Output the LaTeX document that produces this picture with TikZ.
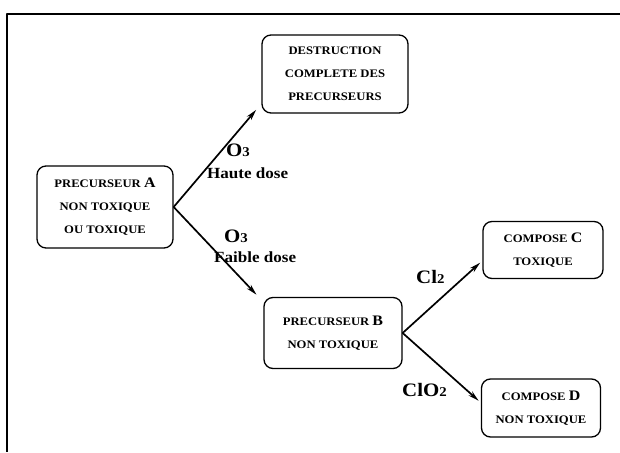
\documentclass[tikz,border=0pt]{standalone}
\usepackage{fontspec}
\setmainfont{Liberation Serif}
\newfontfamily\reffont[FakeStretch=1.1]{Liberation Serif}
\usetikzlibrary{arrows.meta}
\newcommand\boxfont{\reffont\bfseries\fontsize{11.5}{23}\selectfont}
\newcommand\bigletter[1]{{\fontsize{14.5}{23}\selectfont #1}}
\newcommand\chemfont{\reffont\bfseries\fontsize{19}{20}\selectfont}
\newcommand\dosefont{\reffont\bfseries\fontsize{15.5}{16}\selectfont}
\newcommand\subnum[1]{{\fontsize{13.5}{14}\selectfont #1}}
\tikzset{
  diagram style/.style={
    x=1pt, y=1pt,
    line join=round,
  },
  stage box/.style={
    draw,
    line width=1.3pt,
    rounded corners=9pt,
    align=center,
    inner sep=0pt,
    font=\boxfont,
  },
  reaction/.style={
    draw,
    line width=1.7pt,
    -{Stealth[length=11pt,width=5.5pt]},
    shorten >=#1,
  },
  reaction/.default=8pt,
  agent label/.style={
    anchor=west,
    inner sep=0pt,
    font=\chemfont,
  },
  dose label/.style={
    anchor=west,
    inner sep=0pt,
    font=\dosefont,
  },
  frame line/.style={
    line width=1.6pt,
  },
}

\begin{document}
\begin{tikzpicture}[diagram style]
  \useasboundingbox (0,0) rectangle (620,452);
  % frame
  \coordinate (frameTR) at (620,438);
  \coordinate (frameTL) at (7,438);
  \coordinate (frameBL) at (7,0);
  \draw[frame line] (frameTR) -- (frameTL) -- (frameBL);

  % stages
  \node[stage box, minimum width=136, minimum height=82] (precA) at (105,245)
    {PRECURSEUR \bigletter{A}\\NON TOXIQUE\\OU TOXIQUE};
  \node[stage box, minimum width=146, minimum height=78] (destr) at (335,378)
    {DESTRUCTION\\COMPLETE DES\\PRECURSEURS};
  \node[stage box, minimum width=138, minimum height=71] (precB) at (333,119)
    {PRECURSEUR \bigletter{B}\\NON TOXIQUE};
  \node[stage box, minimum width=120, minimum height=57] (compC) at (543,202)
    {COMPOSE \bigletter{C}\\TOXIQUE};
  \node[stage box, minimum width=119, minimum height=58] (compD) at (541,44)
    {COMPOSE \bigletter{D}\\NON TOXIQUE};

  % reactions
  \draw[reaction] (precA.east) -- (destr.202);
  \draw[reaction=10pt] (precA.east) -- (precB.156);
  \draw[reaction=3pt] (precB.east) -- (compC.190);
  \draw[reaction=3pt] (precB.east) -- (compD.175);

  % labels
  \node[agent label] (o3high) at (226,302) {O\subnum{3}};
  \node[dose label] (doseHigh) at (207,279) {Haute dose};
  \node[agent label] (o3low) at (224,216) {O\subnum{3}};
  \node[dose label] (doseLow) at (214,195) {Faible dose};
  \node[agent label] (cl2) at (416,175) {Cl\subnum{2}};
  \node[agent label] (clo2) at (402,62) {ClO\subnum{2}};
\end{tikzpicture}
\end{document}
